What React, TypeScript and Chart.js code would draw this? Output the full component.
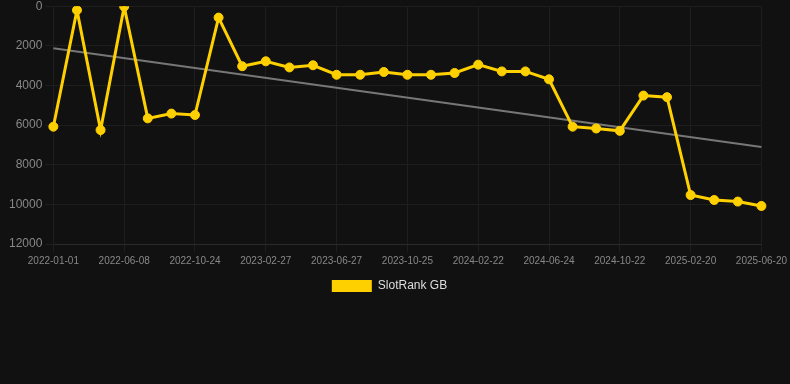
import React, { useEffect, useRef } from "react";
import { Chart, registerables } from "chart.js";

Chart.register(...registerables);

const labels: string[] = [
  "2022-01-01", "2022-02-23", "2022-04-17",
  "2022-06-08", "2022-07-24", "2022-09-08",
  "2022-10-24", "2022-12-04", "2023-01-15",
  "2023-02-27", "2023-04-08", "2023-05-18",
  "2023-06-27", "2023-08-06", "2023-09-15",
  "2023-10-25", "2023-12-04", "2024-01-13",
  "2024-02-22", "2024-04-02", "2024-05-13",
  "2024-06-24", "2024-08-03", "2024-09-12",
  "2024-10-22", "2024-12-01", "2025-01-10",
  "2025-02-20", "2025-04-01", "2025-05-11",
  "2025-06-20",
];

const rankValues: number[] = [
  6080, 200, 6250, 20, 5660, 5420, 5490, 575, 3030, 2780,
  3090, 2980, 3460, 3460, 3320, 3460, 3460, 3370, 2950, 3290,
  3290, 3690, 6080, 6170, 6290, 4510, 4590, 9530, 9780, 9860,
  10080,
];

// trend line: start and end values only
const trendStart = 2120;
const trendEnd = 7110;

const yTicksMin = 0;
const yTicksMax = 12000;
const yStep = 2000;

export default function App() {
  const ref = useRef<HTMLCanvasElement | null>(null);

  useEffect(() => {
    document.body.style.margin = "0";
    document.body.style.background = "#111111";
    if (!ref.current) return;
    const trendData = labels.map((_, i) =>
      i === 0 ? trendStart : i === labels.length - 1 ? trendEnd : null
    );
    Chart.defaults.font.family = "Arial, 'Liberation Sans', sans-serif";
    const chart = new Chart(ref.current, {
      type: "line",
      data: {
        labels,
        datasets: [
          {
            label: "SlotRank GB",
            data: rankValues,
            borderColor: "#FFD000",
            backgroundColor: "#FFD000",
            borderWidth: 3,
            pointRadius: 4.5,
            pointBorderWidth: 1,
            pointHoverRadius: 4.5,
            pointBackgroundColor: "#FFD000",
            pointBorderColor: "#FFD000",
            tension: 0,
          },
          {
            label: "trend",
            data: trendData,
            borderColor: "#777777",
            backgroundColor: "#777777",
            borderWidth: 2,
            pointRadius: 0,
            spanGaps: true,
          },
        ],
      },
      options: {
        animation: false,
        responsive: true,
        maintainAspectRatio: false,
        layout: { padding: { left: 6, right: 17, top: 0, bottom: 0 } },
        plugins: {
          legend: {
            position: "bottom",
            labels: {
              color: "#dddddd",
              font: { size: 12 },
              boxWidth: 40,
              boxHeight: 12,
              filter: (item) => item.text !== "trend",
              generateLabels: (ch) =>
                Chart.defaults.plugins.legend.labels
                  .generateLabels(ch)
                  .map((l) => ({ ...l, lineWidth: 0 })),
            },
          },
          tooltip: { enabled: false },
        },
        scales: {
          x: {
            grid: { color: "#1e1e1e", tickColor: "#1e1e1e" },
            border: { color: "#2a2a2a" },
            ticks: {
              color: "#888888",
              font: { size: 10 },
              maxRotation: 0,
              autoSkip: true,
              maxTicksLimit: 11,
            },
          },
          y: {
            reverse: true,
            min: yTicksMin,
            max: yTicksMax,
            grid: { color: "#1e1e1e", tickColor: "#1e1e1e" },
            border: { color: "#1e1e1e" },
            ticks: {
              color: "#888888",
              font: { size: 12 },
              stepSize: yStep,
              callback: (v) => String(v),
            },
          },
        },
      },
    });
    return () => chart.destroy();
  }, []);

  return (
    <div style={{ width: 790, height: 384, background: "#111111", overflow: "hidden" }}>
      <div style={{ width: 790, height: 306, position: "relative", top: -4 }}>
        <canvas ref={ref} />
      </div>
    </div>
  );
}
